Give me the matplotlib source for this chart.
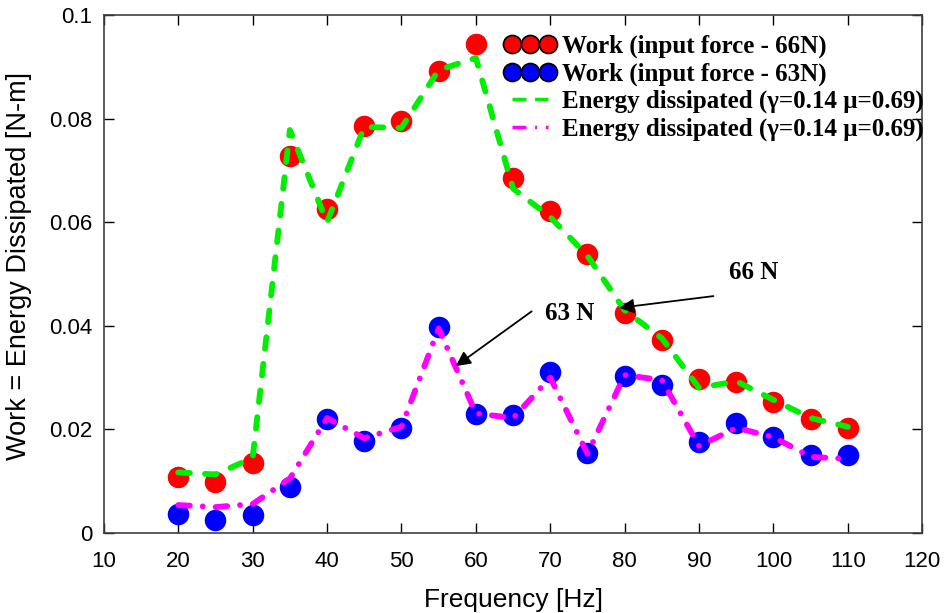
import numpy as np
import matplotlib.pyplot as plt
from matplotlib.lines import Line2D

freq = [20, 25, 30, 35, 40, 45, 50, 55, 60, 65, 70, 75, 80, 85, 90, 95, 100, 105, 110]

# measured work, input force 66 N and 63 N
work_66 = [0.0108, 0.0098, 0.0135, 0.0728, 0.0625, 0.0786, 0.0795, 0.0892, 0.0944, 0.0685,
           0.0622, 0.0539, 0.0425, 0.0372, 0.0297, 0.0292, 0.0252, 0.0221, 0.0203]
work_63 = [0.0037, 0.0025, 0.0035, 0.0089, 0.0220, 0.0178, 0.0203, 0.0398, 0.0230, 0.0228,
           0.0311, 0.0154, 0.0303, 0.0286, 0.0176, 0.0212, 0.0185, 0.0151, 0.0151]

# model energy dissipated
energy_66 = [0.0117, 0.0113, 0.0145, 0.0778, 0.0600, 0.0784, 0.0782, 0.0894, 0.0917, 0.0665,
             0.0610, 0.0535, 0.0430, 0.0376, 0.0280, 0.0293, 0.0257, 0.0222, 0.0205]
energy_63 = [0.0054, 0.0050, 0.0056, 0.0105, 0.0222, 0.0183, 0.0205, 0.0395, 0.0231, 0.0222,
             0.0300, 0.0153, 0.0305, 0.0295, 0.0168, 0.0203, 0.0185, 0.0147, 0.0143]

legend_labels = ['Work (input force - 66N)', 'Work (input force - 63N)',
                 'Energy dissipated (\u03b3=0.14 \u03bc=0.69)',
                 'Energy dissipated (\u03b3=0.14 \u03bc=0.69)']

plt.rcParams['font.family'] = ['Liberation Sans', 'DejaVu Sans']

fig = plt.figure(figsize=(9.44, 6.13), dpi=100)
ax = fig.add_axes([0.110, 0.1305, 0.867, 0.845])

ax.plot(freq, work_66, 'o', color='red', markersize=15.5, markeredgewidth=0, zorder=2)
ax.plot(freq, work_63, 'o', color='blue', markersize=15.5, markeredgewidth=0, zorder=2)
ax.plot(freq, energy_66, color='#00ee00', lw=4.2, dashes=(2.0, 2.6),
        dash_capstyle='round', zorder=3)
ax.plot(freq, energy_63, color='#ff00ff', lw=4.2, dashes=(2.0, 2.2, 0.01, 2.2),
        dash_capstyle='round', zorder=3)

ax.set_xlim(10, 120)
ax.set_ylim(0, 0.1)
ax.set_xticks(np.arange(10, 121, 10))
ax.set_yticks([0, 0.02, 0.04, 0.06, 0.08, 0.1])
ax.set_yticklabels(['0', '0.02', '0.04', '0.06', '0.08', '0.1'])
ax.tick_params(direction='in', length=7, width=1, top=True, right=True, labelsize=16,
               colors='black')
ax.tick_params(axis='x', pad=13)
ax.tick_params(axis='y', pad=8.5)
for sp in ax.spines.values():
    sp.set_linewidth(1.2)
    sp.set_color('#404040')

ax.set_xlabel('Frequency [Hz]', fontsize=19)
ax.set_ylabel('Work = Energy Dissipated [N-m]', fontsize=19.5)
ax.xaxis.set_label_coords(0.5, -0.106)
ax.yaxis.set_label_coords(-0.088, 0.515)

# arrows pointing at the two curves
bold_serif = dict(family='Liberation Serif', weight='bold', fontsize=18)
ax.annotate('', xy=(78.9, 0.0434), xytext=(92.3, 0.0458),
            arrowprops=dict(arrowstyle='-|>', color='black', lw=1.3, mutation_scale=22))
ax.text(97.4, 0.0502, '66 N', ha='center', va='center', **bold_serif)
ax.annotate('', xy=(57.0, 0.0319), xytext=(67.8, 0.0431),
            arrowprops=dict(arrowstyle='-|>', color='black', lw=1.3, mutation_scale=22))
ax.text(72.6, 0.0423, '63 N', ha='center', va='center', **bold_serif)

handles = [
    Line2D([], [], ls='none', marker='o', color='red', markeredgecolor='black',
           markeredgewidth=1.2, markersize=13),
    Line2D([], [], ls='none', marker='o', color='blue', markeredgecolor='black',
           markeredgewidth=1.2, markersize=13),
    Line2D([], [], color='#00ee00', lw=2.5, dashes=(4, 2.5)),
    Line2D([], [], color='#ff00ff', lw=2.5, dashes=(4, 2.5, 0.6, 2.5)),
]
leg = ax.legend(handles, legend_labels, loc='upper left', bbox_to_anchor=(0.489, 0.962),
                frameon=False, numpoints=3, handlelength=2.05, handletextpad=0.25,
                labelspacing=0.17, borderaxespad=0, borderpad=0,
                prop=dict(family='Liberation Serif', weight='bold', size=18))

fig.savefig('out.png', dpi=100)
